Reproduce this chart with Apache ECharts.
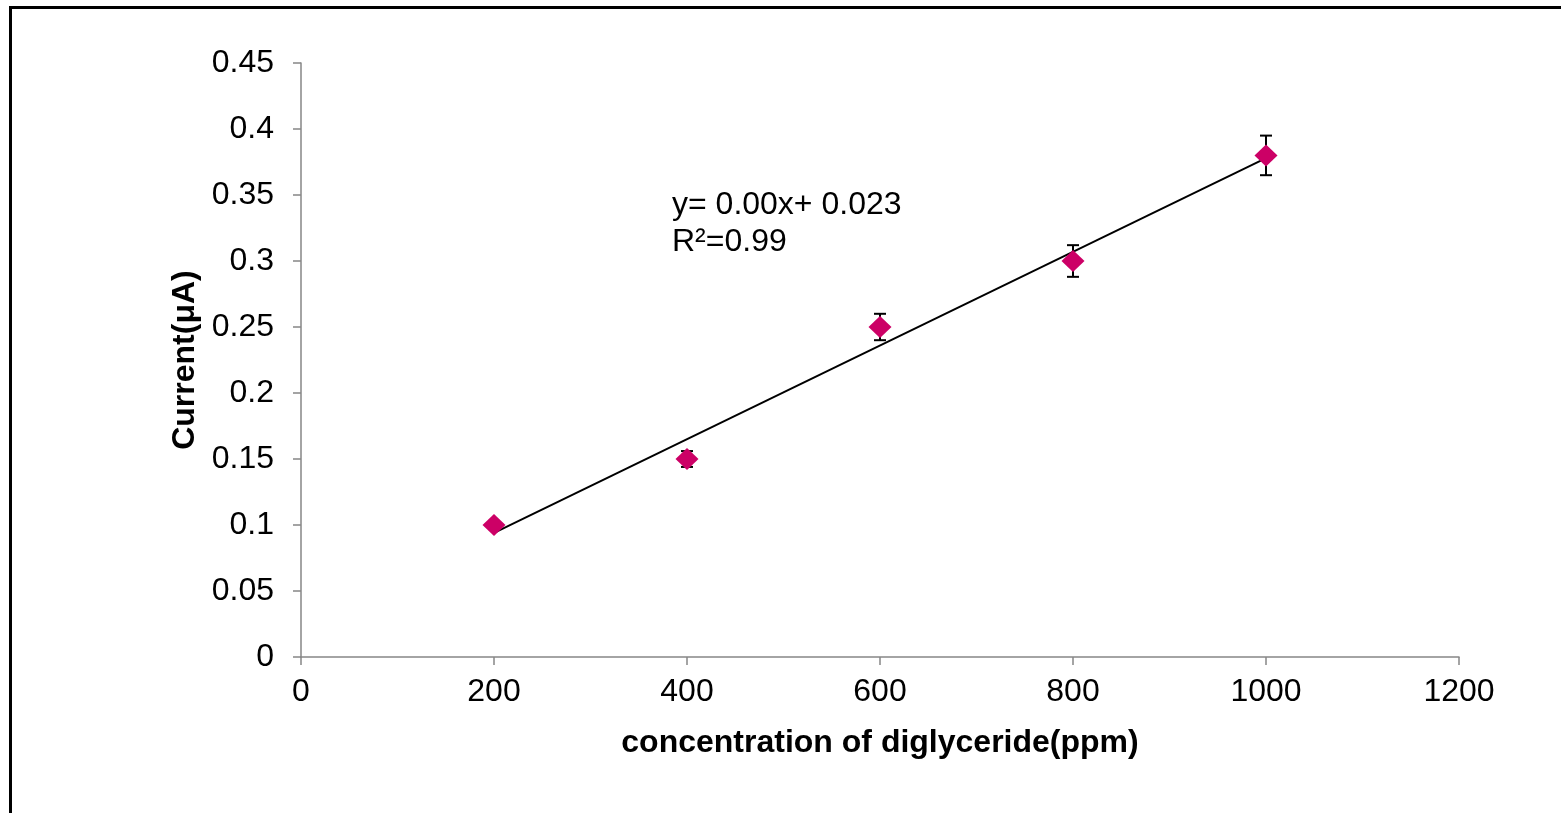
<!DOCTYPE html>
<html>
<head>
<meta charset="utf-8">
<script src="https://cdn.jsdelivr.net/npm/echarts@6/dist/echarts.min.js"></script>
<style>
html,body{margin:0;padding:0;background:#fff;}
#chart{width:1561px;height:813px;}
</style>
</head>
<body>
<div id="chart"></div>
<script>
var concentrations = [200, 400, 600, 800, 1000];
var currents = [0.10, 0.15, 0.25, 0.30, 0.38];
var errors = [0.003, 0.006, 0.010, 0.012, 0.015];
var xTitle = 'concentration of diglyceride(ppm)';
var yTitle = 'Current(μA)';
var eqLine1 = 'y= 0.00x+ 0.023';
var eqLine2 = 'R²=0.99';

// least-squares trendline from the data
var n = concentrations.length, mx = 0, my = 0;
for (var i = 0; i < n; i++) { mx += concentrations[i]; my += currents[i]; }
mx /= n; my /= n;
var sxy = 0, sxx = 0;
for (var i = 0; i < n; i++) { sxy += (concentrations[i]-mx)*(currents[i]-my); sxx += (concentrations[i]-mx)*(concentrations[i]-mx); }
var slope = sxy / sxx, intercept = my - slope * mx;
var xmin = concentrations[0], xmax = concentrations[n-1];
var trend = [[xmin, intercept + slope*xmin], [xmax, intercept + slope*xmax]];

var points = concentrations.map(function(x, i){ return [x, currents[i]]; });
var errData = concentrations.map(function(x, i){ return [x, currents[i]-errors[i], currents[i]+errors[i]]; });

var font = 'Liberation Sans, Arial, sans-serif';
var axisColor = '#868686';
var chart = echarts.init(document.getElementById('chart'));
chart.setOption({
  animation: false,
  backgroundColor: '#fff',
  grid: {left: 301, right: 102, top: 63, bottom: 156, containLabel: false},
  xAxis: {
    type: 'value', min: 0, max: 1200, interval: 200,
    name: xTitle, nameLocation: 'middle', nameGap: 70,
    nameTextStyle: {fontFamily: font, fontSize: 32, fontWeight: 'bold', color: '#000'},
    axisLine: {show: true, lineStyle: {color: axisColor, width: 1.5}},
    axisTick: {show: true, inside: false, length: 8, lineStyle: {color: axisColor, width: 1.5}},
    axisLabel: {fontFamily: font, fontSize: 32, color: '#000', margin: 19,
      formatter: function(v){ return String(v); }},
    splitLine: {show: false}
  },
  yAxis: {
    type: 'value', min: 0, max: 0.45, interval: 0.05,
    name: yTitle, nameLocation: 'middle', nameGap: 95, nameRotate: 90,
    nameTextStyle: {fontFamily: font, fontSize: 32, fontWeight: 'bold', color: '#000'},
    axisLine: {show: true, lineStyle: {color: axisColor, width: 1.5}},
    axisTick: {show: true, inside: false, length: 8, lineStyle: {color: axisColor, width: 1.5}},
    axisLabel: {fontFamily: font, fontSize: 32, color: '#000', margin: 27,
      formatter: function(v){ return String(parseFloat(v.toFixed(2))); }},
    splitLine: {show: false}
  },
  graphic: [
    {type: 'rect', left: 8, top: 5, shape: {width: 1700, height: 1000},
     style: {fill: 'none', stroke: '#000', lineWidth: 3}, silent: true, z: 100},
    {type: 'text', left: 672, top: 187,
     style: {text: eqLine1 + '\n' + eqLine2, font: '32px ' + font, fill: '#000', lineHeight: 37}}
  ],
  series: [
    {type: 'line', data: trend, symbol: 'none', lineStyle: {color: '#000', width: 2}, z: 2},
    {type: 'custom', data: errData, z: 3,
     renderItem: function(params, api){
       var x = api.value(0);
       var lo = api.coord([x, api.value(1)]);
       var hi = api.coord([x, api.value(2)]);
       var cw = 6;
       var st = {stroke: '#000', lineWidth: 2};
       return {type: 'group', children: [
         {type: 'line', shape: {x1: lo[0], y1: lo[1], x2: hi[0], y2: hi[1]}, style: st},
         {type: 'line', shape: {x1: lo[0]-cw, y1: lo[1], x2: lo[0]+cw, y2: lo[1]}, style: st},
         {type: 'line', shape: {x1: hi[0]-cw, y1: hi[1], x2: hi[0]+cw, y2: hi[1]}, style: st}
       ]};
     }},
    {type: 'scatter', data: points, symbol: 'diamond', symbolSize: [23, 22],
     itemStyle: {color: '#CC0066', opacity: 1}, z: 4}
  ]
});
</script>
</body>
</html>
